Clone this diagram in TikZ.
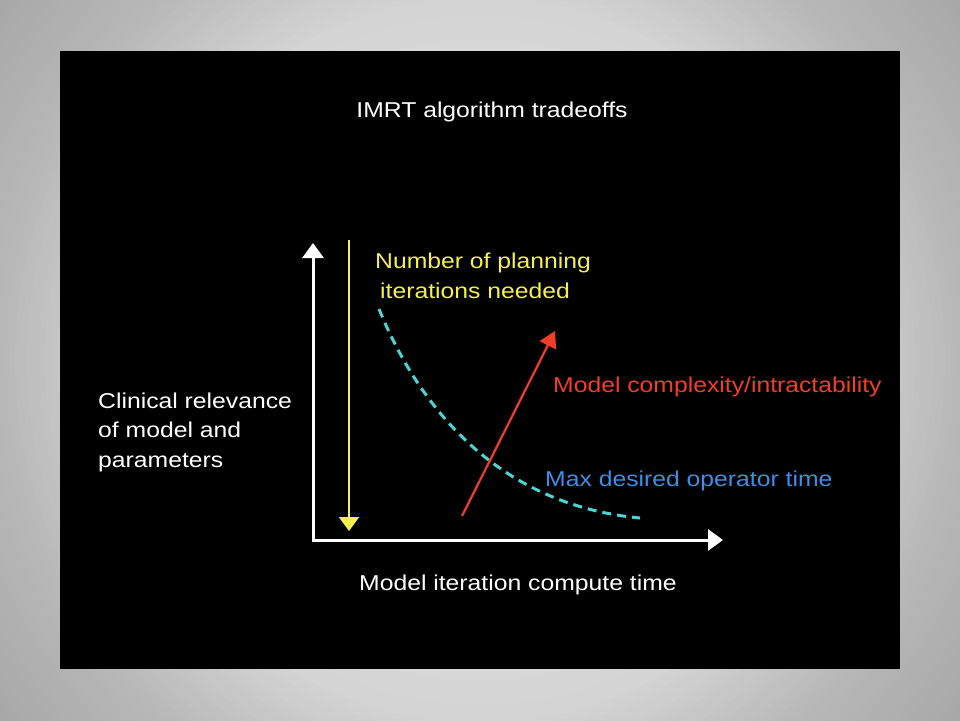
\documentclass[tikz,border=0pt]{standalone}
\usepackage{fontspec}
\setmainfont{Liberation Sans}[FakeStretch=1.15]
\usetikzlibrary{arrows.meta}
\definecolor{tyellow}{RGB}{245,240,75}
\definecolor{tred}{RGB}{240,62,40}
\definecolor{tblue}{RGB}{62,142,230}
\definecolor{tcyan}{RGB}{75,212,212}

\begin{document}
\begin{tikzpicture}[x=1pt, y=-1pt,
  txt/.style={anchor=base west, inner sep=0pt, align=left, font=\fontsize{21.5}{30}\selectfont},
  axis/.style={draw=white, line width=3pt, {Triangle[length=15pt,width=21pt]}-{Triangle[length=15pt,width=21pt]}},
  down/.style={draw=tyellow, line width=2.2pt, -{Triangle[length=14pt,width=20pt]}},
  up/.style={draw=tred, line width=2.2pt, -{Triangle[length=16pt,width=18pt]}},
  limit/.style={draw=tcyan, line width=3pt, dash pattern=on 9pt off 6pt}]
\begin{scope}
\clip (0,0) rectangle (960,720);
\foreach \r in {606,600,...,0} {
  \pgfmathtruncatemacro\g{240-28*min(\r,360)/360-28*max(0,min(\r,480)-360)/120-16*max(0,min(\r,600)-480)/120}
  \definecolor{bgring}{RGB}{\g,\g,\g}
  \fill[bgring] (480,360) circle (\r+3);
}
\end{scope}
\fill[black] (60,51) rectangle (900,669);

\node[txt, anchor=base, text=white] (1) at (492,117) {IMRT algorithm tradeoffs};
\node[txt, text=tyellow] (2) at (375,298) {Number of planning\\\hspace*{5pt}iterations needed};
\node[txt, text=white, font=\fontsize{21.5}{29.5}\selectfont] (3) at (98,467) {Clinical relevance\\of model and\\parameters};
\node[txt, text=tred] (4) at (553,392) {Model complexity/intractability};
\node[txt, text=tblue] (5) at (545,486) {Max desired operator time};
\node[txt, text=white] (6) at (359,590) {Model iteration compute time};

\coordinate (7) at (313,243);
\coordinate (8) at (723,540);
\coordinate (9) at (349,240);
\coordinate (10) at (349,531);
\coordinate (11) at (462,516);
\coordinate (12) at (555,331);
\coordinate (13) at (379,309);
\coordinate (14) at (640,518);

\draw[axis] (7) |- (8);
\draw[down] (9) -- (10);
\draw[limit] (13) .. controls (420,410) and (500,505) .. (14);
\draw[up] (11) -- (12);
\end{tikzpicture}
\end{document}
